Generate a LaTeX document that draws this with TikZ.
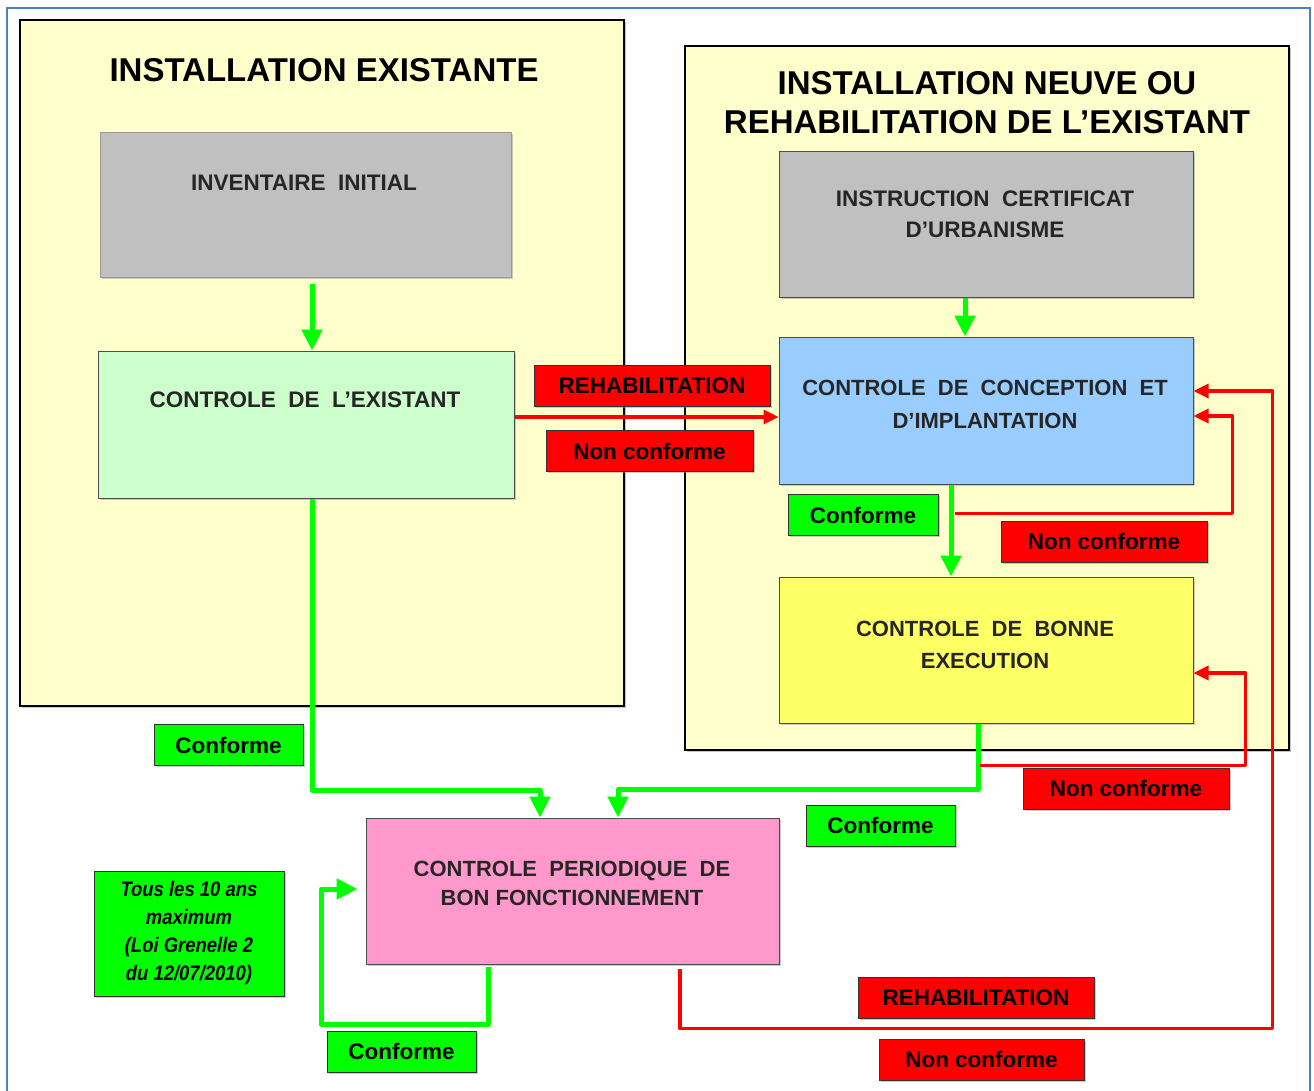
\documentclass[tikz,border=0pt]{standalone}
\usepackage{fontspec}
\setmainfont{Liberation Sans}
\newfontfamily\narrowfont[FakeStretch=0.88]{Liberation Sans}
\usetikzlibrary{arrows.meta,shadows}
\definecolor{frameblue}{HTML}{4F81BD}
\definecolor{paleyellow}{HTML}{FFFFCC}
\definecolor{boxgray}{HTML}{C0C0C0}
\definecolor{palegreen}{HTML}{CCFFCC}
\definecolor{paleblue}{HTML}{99CCFF}
\definecolor{brightyellow}{HTML}{FFFF66}
\definecolor{pinkbox}{HTML}{FF99CC}
\definecolor{lgreen}{HTML}{00FF00}
\definecolor{lred}{HTML}{FF0000}
\tikzset{
  container/.style={draw=black, line width=2.5pt, fill=paleyellow, inner sep=0pt,
    drop shadow={shadow xshift=2pt, shadow yshift=-2pt, fill=black!45}},
  stepbox/.style={draw=black!70, line width=1pt, inner sep=0pt,
    drop shadow={shadow xshift=1.5pt, shadow yshift=-1.5pt, fill=black!40}},
  boxtext/.style={font=\bfseries\fontsize{22.5}{31}\selectfont, text=black!85, align=center, inner sep=0pt},
  titletext/.style={font=\bfseries\fontsize{33}{39}\selectfont, text=black, align=center, inner sep=0pt},
  lab/.style={draw=black!80, line width=1pt, inner sep=0pt, minimum height=41pt,
    font=\bfseries\fontsize{22.5}{26}\selectfont, text=black,
    drop shadow={shadow xshift=1.5pt, shadow yshift=-1.5pt, fill=black!40}},
  redlab/.style={lab, fill=lred},
  greenlab/.style={lab, fill=lgreen},
  garrow/.style={draw=lgreen, line width=5pt, line join=round, -{Triangle[width=20pt,length=21pt]}},
  rarrow/.style={draw=lred, line width=3.3pt, line join=round, -{Triangle[width=14pt,length=15pt]}},
}
\begin{document}
\begin{tikzpicture}[x=1pt,y=-1pt]
\useasboundingbox (0,0) rectangle (1314,1091);
\fill[white] (0,0) rectangle (1314,1091);
% outer frame
\draw[frameblue, line width=2pt] (7,1091) -- (7,8) -- (1310,8) -- (1310,1091);

% containers
\node[container, minimum width=604pt, minimum height=686pt] (left) at (322,363) {};
\node[container, minimum width=604pt, minimum height=704pt] (right) at (987,398) {};
\node[titletext] (lefttitle) at (324,70) {INSTALLATION EXISTANTE};
\node[titletext] (righttitle) at (987,103) {INSTALLATION NEUVE OU\\REHABILITATION DE L’EXISTANT};

% boxes
\node[stepbox, fill=boxgray, draw=boxgray!80!black, minimum width=411pt, minimum height=145pt] (inv) at (305.5,205.5) {};
\node[boxtext] (invt) at (304,183) {INVENTAIRE\ \ INITIAL};
\node[stepbox, fill=palegreen, minimum width=416pt, minimum height=147pt] (exist) at (306,424.5) {};
\node[boxtext] (existt) at (305,400) {CONTROLE\ \ DE\ \ L’EXISTANT};
\node[stepbox, fill=boxgray, minimum width=414pt, minimum height=145pt] (instr) at (986,224.5) {};
\node[boxtext] (instrt) at (985,214.5) {INSTRUCTION\ \ CERTIFICAT\\D’URBANISME};
\node[stepbox, fill=paleblue, minimum width=414pt, minimum height=147pt] (concep) at (986,410.5) {};
\node[boxtext, font=\bfseries\fontsize{22}{33}\selectfont] (concept) at (985,404.5) {CONTROLE\ \ DE\ \ CONCEPTION\ \ ET\\D’IMPLANTATION};
\node[stepbox, fill=brightyellow, minimum width=414pt, minimum height=146pt] (exec) at (986,650) {};
\node[boxtext, font=\bfseries\fontsize{22}{32}\selectfont] (exect) at (985,645) {CONTROLE\ \ DE\ \ BONNE\\EXECUTION};
\node[stepbox, fill=pinkbox, minimum width=413pt, minimum height=146pt] (perio) at (572.5,891) {};
\node[boxtext, font=\bfseries\fontsize{22}{29}\selectfont] (periot) at (572,883) {CONTROLE\ \ PERIODIQUE\ \ DE\\BON FONCTIONNEMENT};

% green connectors
\draw[garrow] ([xshift=6.5pt,yshift=-6pt]inv.south) -- ([xshift=6pt]exist.north);
\draw[garrow] ([xshift=-21pt]instr.south) -- ([xshift=-21pt]concep.north);
\draw[garrow] ([xshift=-35pt]concep.south) -- ([xshift=-35pt]exec.north);
\draw[garrow] ([xshift=6pt]exist.south) |- ([xshift=-32.5pt,yshift=27pt]perio.north) -- ([xshift=-32.5pt]perio.north);
\draw[garrow] ([xshift=-8pt]exec.south) |- ([xshift=45.5pt,yshift=28pt]perio.north) -- ([xshift=45.5pt]perio.north);
\draw[garrow] ([xshift=-84.5pt,yshift=-2pt]perio.south) -- ++(0,58) -| ([xshift=-44pt,yshift=2pt]perio.west) -- ([xshift=-8pt,yshift=2pt]perio.west);

% red connectors
\draw[rarrow] ([yshift=7.5pt]exist.east) -- ([yshift=-6.5pt]concep.west);
\draw[rarrow] ([xshift=-31pt,yshift=-29pt]concep.south) -| ([xshift=39pt,yshift=-5.5pt]concep.east) -- ([yshift=-5.5pt]concep.east);
\draw[rarrow] ([xshift=-6pt,yshift=-42pt]exec.south) -| ([xshift=52pt,yshift=-23pt]exec.east) -- ([yshift=-23pt]exec.east);
\draw[rarrow] ([xshift=107.5pt,yshift=-4pt]perio.south) -- ++(0,60) -| ([xshift=79pt,yshift=19.5pt]concep.east) -- ([yshift=19.5pt]concep.east);

% labels
\node[redlab, minimum width=236pt] (lrehab1) at (652,385.5) {REHABILITATION};
\node[redlab, minimum width=207pt] (lnc1) at (649.5,451) {Non conforme};
\node[greenlab, minimum width=150pt] (lc1) at (863,515) {Conforme};
\node[redlab, minimum width=206pt] (lnc2) at (1104,541.5) {Non conforme};
\node[greenlab, minimum width=149pt] (lc2) at (228.5,745) {Conforme};
\node[greenlab, minimum width=149pt] (lc3) at (880.5,825.5) {Conforme};
\node[redlab, minimum width=206pt] (lnc3) at (1126,788.5) {Non conforme};
\node[greenlab, minimum width=190pt, minimum height=125pt, align=center,
  font=\narrowfont\bfseries\itshape\fontsize{21}{28}\selectfont] (lnote) at (189,933.5)
  {Tous les 10 ans\\maximum\\(Loi Grenelle 2\\du 12/07/2010)};
\node[greenlab, minimum width=149pt] (lc4) at (401.5,1051.5) {Conforme};
\node[redlab, minimum width=236pt] (lrehab2) at (976,997.5) {REHABILITATION};
\node[redlab, minimum width=205pt] (lnc4) at (981.5,1059.5) {Non conforme};
\end{tikzpicture}
\end{document}
